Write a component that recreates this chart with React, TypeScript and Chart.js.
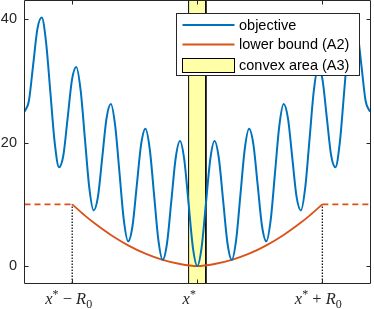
import React, { useEffect, useRef } from "react";
import { Chart, registerables } from "chart.js";

Chart.register(...registerables);

// ---- axis ranges ----
const X_MIN = -5;
const X_MAX = 5;
const Y_MIN = -2.75;
const Y_MAX = 43.1;
const R0 = 3.62;

// ---- objective ----
const objectiveX = [
  -5, -4.875, -4.75, -4.625, -4.5, -4.375, -4.25, -4.125, -4, -3.875, -3.75, -3.625, -3.5, -3.375, -3.25, -3.125,
  -3, -2.875, -2.75, -2.625, -2.5, -2.375, -2.25, -2.125, -2, -1.875, -1.75, -1.625, -1.5, -1.375, -1.25, -1.125,
  -1, -0.875, -0.75, -0.625, -0.5, -0.375, -0.25, -0.125, 0, 0.125, 0.25, 0.375, 0.5, 0.625, 0.75, 0.875,
  1, 1.125, 1.25, 1.375, 1.5, 1.625, 1.75, 1.875, 2, 2.125, 2.25, 2.375, 2.5, 2.625, 2.75, 2.875,
  3, 3.125, 3.25, 3.375, 3.5, 3.625, 3.75, 3.875, 4, 4.125, 4.25, 4.375, 4.5, 4.625, 4.75, 4.875, 5,
];
const objectiveY = [
  25, 26.69, 32.56, 38.46, 40.25, 36.21, 28.06, 19.94, 16, 17.94, 24.06, 30.21, 32.25, 28.46, 20.56, 12.69,
  9, 11.19, 17.56, 23.96, 26.25, 22.71, 15.06, 7.44, 4, 6.44, 13.06, 19.71, 22.25, 18.96, 11.56, 4.19,
  1, 3.69, 10.56, 17.46, 20.25, 17.21, 10.06, 2.94, 0, 2.94, 10.06, 17.21, 20.25, 17.46, 10.56, 3.69,
  1, 4.19, 11.56, 18.96, 22.25, 19.71, 13.06, 6.44, 4, 7.44, 15.06, 22.71, 26.25, 23.96, 17.56, 11.19,
  9, 12.69, 20.56, 28.46, 32.25, 30.21, 24.06, 17.94, 16, 19.94, 28.06, 36.21, 40.25, 38.46, 32.56, 26.69, 25,
];

// ---- lower bound (A2) ----
const lowerBoundX = [-3.62, -3.25, -3, -2.5, -2, -1.5, -1, -0.5, 0, 0.5, 1, 1.5, 2, 2.5, 3, 3.25, 3.62];
const lowerBoundY = [10, 8.17, 7.04, 5.03, 3.35, 2.0, 1.0, 0.33, 0, 0.33, 1.0, 2.0, 3.35, 5.03, 7.04, 8.17, 10];

// dashed continuation of the bound outside the ball
const leftDashX = [-5, -3.62];
const rightDashX = [3.62, 5];
const dashY = [10, 10];

// dotted markers at x* - R0 and x* + R0
const markerX = [-3.62, 3.62];
const markerTop = 10;

// convex area (A3)
const convexX = [-0.25, -0.25, 0.25, 0.25];
const convexY = [Y_MIN, Y_MAX, Y_MAX, Y_MIN];

// ticks
const yTicks = [0, 20, 40];
const xTickValues = [-3.62, 0, 3.62];
const xTickLabels = [
  [{ t: "x", s: "it" }, { t: "*", s: "sup" }, { t: " − ", s: "rm" }, { t: "R", s: "it" }, { t: "0", s: "sub" }],
  [{ t: "x", s: "it" }, { t: "*", s: "sup" }],
  [{ t: "x", s: "it" }, { t: "*", s: "sup" }, { t: " + ", s: "rm" }, { t: "R", s: "it" }, { t: "0", s: "sub" }],
];
const xTickShift = [-3.5, -8, -4];

const legendLabels = ["objective", "lower bound (A2)", "convex area (A3)"];

const BLUE = "#0072BD";
const RED = "#D95319";
const YELLOW = "#ffffa8";
const AXIS = "#262626";

const zip = (xs: number[], ys: number[]) => xs.map((x, i) => ({ x, y: ys[i] }));

const framePlugin = {
  id: "matlabFrame",
  afterDatasetsDraw(chart: any) {
    const { ctx, chartArea, scales } = chart;
    const L = Math.floor(chartArea.left) + 0.5;
    const R = Math.floor(chartArea.right) + 0.5;
    const T = Math.floor(chartArea.top) + 0.5;
    const B = Math.floor(chartArea.bottom) + 0.5;
    const tl = 4;
    ctx.save();
    ctx.strokeStyle = AXIS;
    ctx.lineWidth = 1;
    ctx.beginPath();
    ctx.rect(L, T, R - L, B - T);
    for (const v of yTicks) {
      const y = Math.round(scales.y.getPixelForValue(v)) + 0.5;
      ctx.moveTo(L, y);
      ctx.lineTo(L + tl, y);
      ctx.moveTo(R, y);
      ctx.lineTo(R - tl, y);
    }
    for (const v of xTickValues) {
      const x = Math.round(scales.x.getPixelForValue(v)) + 0.5;
      ctx.moveTo(x, B);
      ctx.lineTo(x, B - tl);
      ctx.moveTo(x, T);
      ctx.lineTo(x, T + tl);
    }
    ctx.stroke();
    ctx.restore();
  },
  afterDraw(chart: any) {
    const { ctx, chartArea, scales } = chart;
    ctx.save();
    // x tick labels (math style)
    const fonts: any = {
      it: { f: "italic 16.5px 'Liberation Serif'", dy: 0 },
      rm: { f: "16.5px 'Liberation Serif'", dy: 0 },
      sup: { f: "12px 'Liberation Serif'", dy: -6 },
      sub: { f: "12px 'Liberation Serif'", dy: 3.5 },
    };
    ctx.fillStyle = AXIS;
    ctx.textBaseline = "alphabetic";
    ctx.textAlign = "left";
    const baseline = chartArea.bottom + 21;
    xTickLabels.forEach((parts, i) => {
      let w = 0;
      const widths = parts.map((p) => {
        ctx.font = fonts[p.s].f;
        const m = ctx.measureText(p.t).width;
        w += m;
        return m;
      });
      let x = scales.x.getPixelForValue(xTickValues[i]) - w / 2 + xTickShift[i];
      parts.forEach((p, j) => {
        ctx.font = fonts[p.s].f;
        ctx.fillText(p.t, x, baseline + fonts[p.s].dy);
        x += widths[j];
      });
    });

    // legend
    const bw = 183;
    const bh = 62;
    const bx = Math.floor(chartArea.right - 11 - bw) + 0.5;
    const by = Math.floor(chartArea.top + 13) + 0.5;
    ctx.fillStyle = "#ffffff";
    ctx.fillRect(bx, by, bw, bh);
    ctx.strokeStyle = AXIS;
    ctx.lineWidth = 1;
    ctx.strokeRect(bx, by, bw, bh);
    const rowY = [by + 11.5, by + 31, by + 51.5];
    const sx0 = bx + 6;
    const sx1 = bx + 58;
    ctx.lineWidth = 2;
    ctx.strokeStyle = BLUE;
    ctx.beginPath();
    ctx.moveTo(sx0, rowY[0]);
    ctx.lineTo(sx1, rowY[0]);
    ctx.stroke();
    ctx.strokeStyle = RED;
    ctx.beginPath();
    ctx.moveTo(sx0, rowY[1]);
    ctx.lineTo(sx1, rowY[1]);
    ctx.stroke();
    ctx.fillStyle = YELLOW;
    ctx.fillRect(sx0, rowY[2] - 7, sx1 - sx0, 14);
    ctx.lineWidth = 1;
    ctx.strokeStyle = "#000";
    ctx.strokeRect(Math.floor(sx0) + 0.5, Math.floor(rowY[2] - 7) + 0.5, sx1 - sx0, 14);
    ctx.fillStyle = "#000";
    ctx.font = "14.5px 'Liberation Sans'";
    ctx.textBaseline = "middle";
    legendLabels.forEach((lab, i) => ctx.fillText(lab, sx1 + 4.5, rowY[i] + 0.5));
    ctx.restore();
  },
};

export default function App() {
  const ref = useRef<HTMLCanvasElement | null>(null);
  useEffect(() => {
    if (!ref.current) return;
    const chart = new Chart(ref.current, {
      type: "line",
      data: {
        datasets: [
          {
            label: legendLabels[0],
            data: zip(objectiveX, objectiveY),
            borderColor: BLUE,
            borderWidth: 2,
            pointRadius: 0,
            cubicInterpolationMode: "monotone",
            fill: false,
            order: 1,
          },
          {
            label: legendLabels[1],
            data: zip(lowerBoundX, lowerBoundY),
            borderColor: RED,
            borderWidth: 1.8,
            pointRadius: 0,
            cubicInterpolationMode: "monotone",
            fill: false,
            order: 2,
          },
          {
            label: "bound-left",
            data: zip(leftDashX, dashY),
            borderColor: RED,
            borderWidth: 1.8,
            borderDash: [6, 4],
            pointRadius: 0,
            fill: false,
            order: 3,
          },
          {
            label: "bound-right",
            data: zip(rightDashX, dashY),
            borderColor: RED,
            borderWidth: 1.8,
            borderDash: [6, 4],
            pointRadius: 0,
            fill: false,
            order: 3,
          },
          {
            label: "marker-left",
            data: [{ x: markerX[0], y: Y_MIN }, { x: markerX[0], y: markerTop }],
            borderColor: "#000",
            borderWidth: 1.2,
            borderDash: [1.5, 1.5],
            pointRadius: 0,
            fill: false,
            order: 4,
          },
          {
            label: "marker-right",
            data: [{ x: markerX[1], y: Y_MIN }, { x: markerX[1], y: markerTop }],
            borderColor: "#000",
            borderWidth: 1.2,
            borderDash: [1.5, 1.5],
            pointRadius: 0,
            fill: false,
            order: 4,
          },
          {
            label: legendLabels[2],
            data: zip(convexX, convexY),
            borderColor: "#000",
            borderWidth: 1,
            backgroundColor: YELLOW,
            pointRadius: 0,
            tension: 0,
            fill: "start",
            order: 5,
          },
        ],
      },
      options: {
        animation: false,
        responsive: false,
        devicePixelRatio: 1,
        layout: { padding: { top: 0, right: 4, bottom: 26, left: 0 } },
        plugins: { legend: { display: false }, tooltip: { enabled: false } },
        scales: {
          x: {
            type: "linear",
            min: X_MIN,
            max: X_MAX,
            display: false,
          },
          y: {
            type: "linear",
            min: Y_MIN,
            max: Y_MAX,
            afterBuildTicks: (s: any) => {
              s.ticks = yTicks.map((v) => ({ value: v }));
            },
            afterFit: (s: any) => {
              s.width = 24.5;
              s.paddingTop = 0;
              s.paddingBottom = 0;
            },
            grid: { display: false, drawTicks: false },
            border: { display: false },
            ticks: {
              padding: 7.5,
              color: AXIS,
              font: { family: "'Liberation Sans'", size: 14.5 },
              callback: (v: any) => String(v),
            },
          },
        },
      },
      plugins: [framePlugin],
    } as any);
    return () => chart.destroy();
  }, []);

  return (
    <div style={{ position: "fixed", left: 0, top: 0, width: 374, height: 309, background: "#fff" }}>
      <canvas ref={ref} width={374} height={309} style={{ display: "block" }} />
    </div>
  );
}
